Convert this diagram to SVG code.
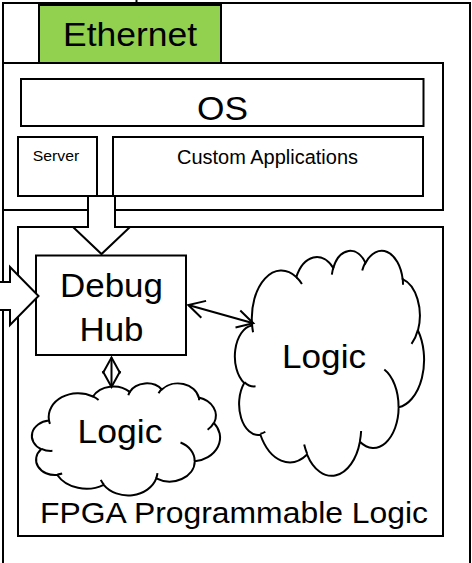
<svg xmlns="http://www.w3.org/2000/svg" xmlns:xlink="http://www.w3.org/1999/xlink" width="472" height="563" viewBox="0 0 472 563">
<style>
.box{fill:#ffffff;stroke:#000000;stroke-width:2}
.eth{fill:#92d050;stroke:#000000;stroke-width:2}
.blk{fill:#ffffff;stroke:#000000;stroke-width:2;stroke-linejoin:miter}
.cl{fill:#ffffff;stroke:#000000;stroke-width:2;vector-effect:non-scaling-stroke}
.cli{fill:none;stroke:#000000;stroke-width:2;vector-effect:non-scaling-stroke}
.t{font-family:"Liberation Sans",Arial,sans-serif;fill:#000000;text-anchor:middle}
.lk{fill:none;stroke:#000000;stroke-width:2}
</style>
<defs>
<marker id="oa" markerUnits="userSpaceOnUse" viewBox="-20 -12 24 24" refX="0" refY="0" markerWidth="24" markerHeight="24" orient="auto-start-reverse" overflow="visible">
<path d="M-16,-8.8 L0,0 L-16,8.8" fill="none" stroke="#000000" stroke-width="2"/>
</marker>
<path id="cloudOut" class="cl" d="M3900 14370 A6753 9190 0 0 1 14006 5203 A5333 7267 0 0 1 22457 3434 A4365 5945 0 0 1 29834 2485 A4857 6595 0 0 1 38318 5582 A5333 7273 0 0 1 41819 15466 A6775 9220 0 0 1 37404 30208 A5785 7867 0 0 1 28555 36818 A6752 9215 0 0 1 16480 39270 A7720 10543 0 0 1 5803 35474 A4360 5918 0 0 1 2113 25551 A4345 5945 0 0 1 3864 14507 Z"/>
<path id="cloudIn" class="cli" d="M4693 26177 A4345 5945 0 0 1 2159 25380 M6928 34899 A4360 5918 0 0 1 5819 35281 M16478 39090 A6752 9215 0 0 1 15810 37349 M28827 34751 A6752 9215 0 0 1 28561 36660 M34129 22954 A5785 7867 0 0 1 37380 30089 M41798 15354 A5333 7273 0 0 1 40350 18030 M38324 5426 A4857 6595 0 0 1 38400 6690 M29078 3952 A4857 6595 0 0 1 29821 2339 M22141 4720 A4365 5945 0 0 1 22540 3225 M14000 5192 A6753 9190 0 0 1 15300 6541 M4127 15789 A6753 9190 0 0 1 3900 14370"/>
</defs>

<g id="board">
<line x1="136.5" y1="-2" x2="136.5" y2="3" stroke="#000000" stroke-width="2"/>
<rect class="box" x="3" y="3" width="467" height="580"/>
</g>

<g id="ethernet">
<rect class="eth" x="39" y="5" width="182" height="58"/>
<text class="t" x="130" y="45.5" font-size="33" textLength="134" lengthAdjust="spacingAndGlyphs">Ethernet</text>
</g>

<g id="processor">
<rect class="box" x="3" y="63" width="440" height="147"/>
</g>

<g id="os">
<rect class="box" x="21" y="79" width="402.5" height="47"/>
<text class="t" x="222.5" y="119.5" font-size="33" textLength="51" lengthAdjust="spacingAndGlyphs">OS</text>
</g>

<g id="server">
<rect class="box" x="18" y="137" width="79" height="59"/>
<text class="t" x="56" y="160.5" font-size="15.5" textLength="46.5" lengthAdjust="spacingAndGlyphs">Server</text>
</g>

<g id="custom">
<rect class="box" x="113" y="137" width="310" height="59"/>
<text class="t" x="267.5" y="164" font-size="19.5" textLength="181" lengthAdjust="spacingAndGlyphs">Custom Applications</text>
</g>

<g id="fpga">
<rect class="box" x="18" y="227" width="425" height="309"/>
<text class="t" x="234" y="523" font-size="30" textLength="388" lengthAdjust="spacingAndGlyphs">FPGA Programmable Logic</text>
</g>

<g id="debughub">
<rect class="box" x="36" y="255.5" width="150" height="99.5"/>
<text class="t" x="111.5" y="296.7" font-size="33" textLength="103" lengthAdjust="spacingAndGlyphs">Debug</text>
<text class="t" x="111.5" y="341" font-size="33" textLength="64" lengthAdjust="spacingAndGlyphs">Hub</text>
</g>

<g id="logic-big">
<use xlink:href="#cloudOut" transform="translate(235,250) scale(0.004375,0.0052083)"/>
<use xlink:href="#cloudIn" transform="translate(235,250) scale(0.004375,0.0052083)"/>
<text class="t" x="324" y="368" font-size="33" textLength="84" lengthAdjust="spacingAndGlyphs">Logic</text>
</g>

<g id="logic-small">
<use xlink:href="#cloudOut" transform="translate(32,383) scale(0.0043519,0.0025926)"/>
<use xlink:href="#cloudIn" transform="translate(32,383) scale(0.0043519,0.0025926)"/>
<text class="t" x="120" y="443.3" font-size="33" textLength="85" lengthAdjust="spacingAndGlyphs">Logic</text>
</g>

<g id="connectors">
<polygon class="blk" points="88,196 115,196 115,227 130,227 101.5,254 73,227 88,227"/>
<polygon class="blk" points="-6,282 10,282 10,267 38.5,296 10,325 10,310 -6,310"/>
<line class="lk" x1="188.3" y1="305" x2="253.3" y2="323.3" marker-start="url(#oa)" marker-end="url(#oa)"/>
<line class="lk" x1="111.5" y1="357.5" x2="111.5" y2="387" marker-start="url(#oa)" marker-end="url(#oa)"/>
</g>
</svg>
